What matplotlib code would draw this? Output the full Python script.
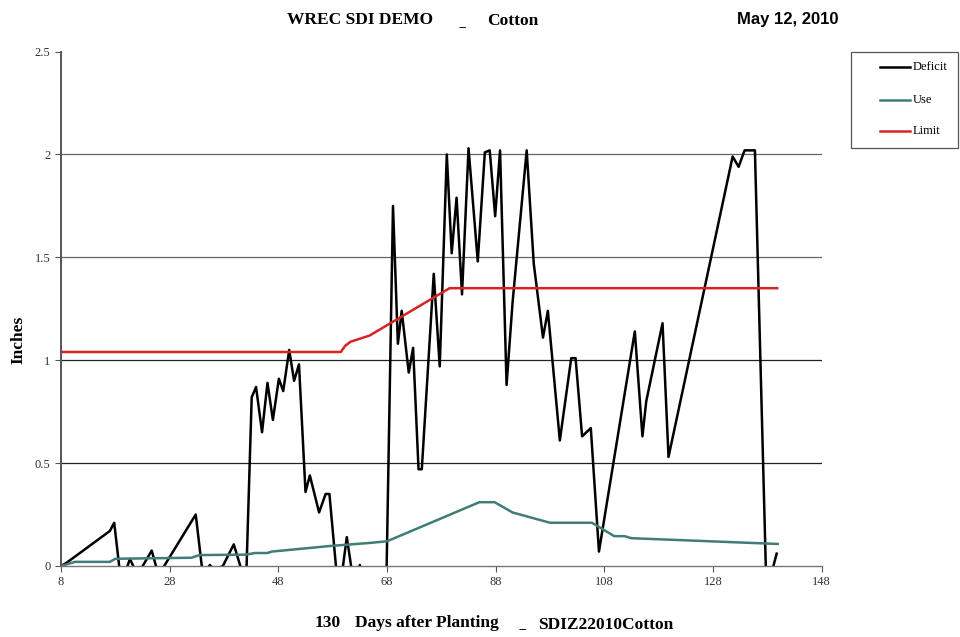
import numpy as np
import matplotlib
matplotlib.use('Agg')
import matplotlib.pyplot as plt
from matplotlib.lines import Line2D
from matplotlib.patches import Rectangle

# Dados (dia após plantio, polegadas)
deficit_dias = [8, 9, 17, 17.8, 18.8, 19.6, 20.7, 21.8, 22.6, 24.7, 25.8, 26.4, 27.0,
                32.8, 34.0, 34.8, 35.4, 36.2, 37.8, 39.8, 41.0, 41.7, 42.1, 43.1,
                43.9, 45.0, 46.0, 47.0, 48.1, 48.9, 50.0, 50.9, 51.8, 53.0, 53.8,
                55.5, 56.7, 57.4, 58.6, 59.4, 60.6, 61.5, 62.3, 63.0, 63.6, 67.2,
                67.9, 69.1, 70.0, 70.7, 72.0, 72.8, 73.8, 74.4, 76.6, 77.7, 79.0,
                79.9, 80.8, 81.8, 83.0, 84.7, 86.0, 86.9, 87.9, 88.8, 90.0, 91.1,
                93.7, 95.0, 96.7, 97.6, 99.8, 101.9, 102.7, 103.9, 105.5, 107.0,
                113.6, 115.0, 115.7, 118.7, 119.8, 131.6, 132.7, 133.8, 135.7,
                137.7, 138.4, 139.1, 139.7]
deficit_vals = [0.0, 0.015, 0.17, 0.21, -0.02, -0.05, 0.035, -0.03, -0.02, 0.075, -0.03, -0.05, 0.0,
                0.25, -0.02, -0.02, 0.005, -0.02, 0.0, 0.105, 0.0, -0.2, -0.05, 0.82,
                0.87, 0.65, 0.89, 0.71, 0.91, 0.85, 1.05, 0.90, 0.98, 0.36, 0.44,
                0.26, 0.35, 0.35, 0.0, -0.1, 0.14, -0.02, -0.1, 0.005, -0.1, -0.3,
                -0.05, 1.75, 1.08, 1.24, 0.94, 1.06, 0.47, 0.47, 1.42, 0.97, 2.00,
                1.52, 1.79, 1.32, 2.03, 1.48, 2.01, 2.02, 1.70, 2.02, 0.88, 1.28,
                2.02, 1.47, 1.11, 1.24, 0.61, 1.01, 1.01, 0.63, 0.67, 0.07,
                1.14, 0.63, 0.80, 1.18, 0.53, 1.99, 1.94, 2.02, 2.02,
                0.0, -0.2, 0.0, 0.06]

uso_dias = [8, 10.6, 17, 18, 32, 33.5, 42, 43.7, 46, 46.8, 57.5, 64.8, 68, 85, 87.8,
            91.1, 98, 105.7, 107, 109.8, 111.7, 113, 139.9]
uso_vals = [0.0, 0.02, 0.02, 0.035, 0.04, 0.053, 0.055, 0.063, 0.063, 0.07, 0.097, 0.112,
            0.12, 0.31, 0.31, 0.26, 0.21, 0.21, 0.19, 0.145, 0.145, 0.135, 0.107]

limite_dias = [8, 59.5, 60.3, 61.3, 64.8, 79.5, 139.8]
limite_vals = [1.04, 1.04, 1.07, 1.09, 1.12, 1.35, 1.35]

xticks = [8, 28, 48, 68, 88, 108, 128, 148]
yticks = [0, 0.5, 1, 1.5, 2, 2.5]
ytick_labels = ['0', '0.5', '1', '1.5', '2', '2.5']

serif = 'Liberation Serif'
cores = {'Deficit': 'black', 'Use': '#3f7d76', 'Limit': '#d62424'}

fig = plt.figure(figsize=(9.6, 6.37), dpi=100)
ax = fig.add_axes([0.0635, 0.1115, 0.7925, 0.8075])

ax.plot(deficit_dias, deficit_vals, color=cores['Deficit'], lw=1.8)
ax.plot(uso_dias, uso_vals, color=cores['Use'], lw=1.8)
ax.plot(limite_dias, limite_vals, color=cores['Limit'], lw=1.8)

ax.set_xlim(8, 148)
ax.set_ylim(0, 2.5)
ax.set_xticks(xticks)
ax.set_yticks(yticks)
ax.set_yticklabels(ytick_labels)

for v, c in zip(yticks[1:-1], ['#222222', '#222222', '#666666', '#666666']):
    ax.axhline(v, color=c, lw=0.9, zorder=0)

for s in ['top', 'right']:
    ax.spines[s].set_visible(False)
ax.spines['left'].set_color('#555555')
ax.spines['left'].set_linewidth(1.4)
ax.spines['bottom'].set_color('#777777')
ax.spines['bottom'].set_linewidth(1.0)

ax.tick_params(axis='both', direction='out', length=4, color='#555555',
               labelsize=9, labelcolor='#333333')
for lab in ax.get_xticklabels() + ax.get_yticklabels():
    lab.set_fontfamily(serif)

fig.text(0.019, 0.466, 'Inches', fontfamily=serif, fontweight='bold', fontsize=12.5,
         rotation=90, va='center', ha='center')

# Legenda desenhada à mão (caixa à direita)
fig.patches.append(Rectangle((851 / 960, 1 - 148 / 637), 107 / 960, 96 / 637,
                             transform=fig.transFigure, facecolor='white',
                             edgecolor='#555555', lw=0.9))
for nome, yy in zip(['Deficit', 'Use', 'Limit'], [67, 100, 131]):
    yf = 1 - yy / 637
    fig.lines.append(Line2D([880 / 960, 910 / 960], [yf, yf], transform=fig.transFigure,
                            color=cores[nome], lw=1.8))
    fig.text(913 / 960, yf, nome, fontfamily=serif, fontsize=9, va='center', ha='left')

# Títulos
fig.text(0.299, 0.969, 'WREC SDI DEMO', fontfamily=serif, fontweight='bold',
         fontsize=12.5, va='center', ha='left')
fig.text(0.482, 0.951, '--', fontfamily=serif, fontsize=9,
         va='baseline', ha='center')
fig.text(0.507, 0.967, 'Cotton', fontfamily=serif, fontweight='bold', fontsize=12.5,
         va='center', ha='left')
fig.text(0.768, 0.970, 'May 12, 2010', fontfamily='Liberation Sans', fontweight='bold',
         fontsize=12, va='center', ha='left')

fig.text(0.328, 0.022, '130', fontfamily=serif, fontweight='bold', fontsize=12.5,
         va='center', ha='left')
fig.text(0.370, 0.022, 'Days after Planting', fontfamily=serif, fontweight='bold',
         fontsize=12.5, va='center', ha='left')
fig.text(0.544, 0.0065, '--', fontfamily=serif, fontsize=9,
         va='baseline', ha='center')
fig.text(0.560, 0.019, 'SDIZ22010Cotton', fontfamily=serif, fontweight='bold',
         fontsize=12.5, va='center', ha='left')

fig.savefig('out.png', dpi=100)
